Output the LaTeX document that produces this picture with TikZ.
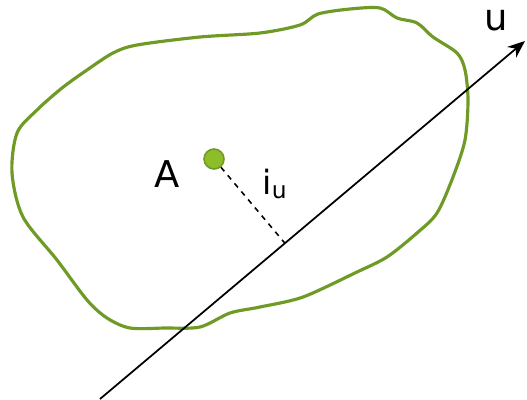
\documentclass[tikz,border=0pt]{standalone}
\usepackage{fontspec}
\setmainfont{DejaVu Sans}
\usetikzlibrary{calc,arrows.meta,positioning}
\definecolor{colorBlob}{HTML}{6E9A25}
\definecolor{colorDot}{HTML}{8DBE2A}
\definecolor{colorDotBorder}{HTML}{6E9A25}

\begin{document}
\begin{tikzpicture}[x=0.02cm, y=-0.02cm,
    blob/.style={draw=colorBlob, line width=1.8pt},
    dotnode/.style={
      circle, draw=colorDotBorder, fill=colorDot, line width=0.9pt,
      minimum size=0.4cm, inner sep=0pt
    },
    lbl/.style={font=\fontsize{21}{25}\selectfont, text=black},
    axisarr/.style={-{Stealth[length=10pt, width=8pt]}, line width=1pt, draw=black},
    perp/.style={dashed, line width=0.9pt, draw=black}
  ]
    \useasboundingbox (0,0) rectangle (527,399);

    % outline of the body
    \draw[blob] plot[smooth cycle, tension=0.5] coordinates {
      (318,14) (350,9) (380,8) (397,18) (417,23) (433,37) (457,53)
      (465,70) (468,100) (465,140) (453,177) (437,213) (417,233)
      (387,257) (357,272) (303,297) (260,307) (230,313) (200,327)
      (165,328) (130,328) (107,318) (87,300) (57,260) (23,217)
      (12,173) (17,133) (37,110) (62,88) (87,70) (113,53) (137,45)
      (200,37) (260,33) (300,25)};

    % axis u
    \coordinate (ustart) at (100,399);
    \coordinate (uend) at (525,41);
    \draw[axisarr] (ustart) -- (uend);

    \node[dotnode] (ctr) at (214,159) {};
    \coordinate (foot) at ($(ustart)!(ctr)!(uend)$);
    \draw[perp] (ctr) -- (foot);

    \node[lbl] (lblA) at (167,174) {A};
    \node[lbl] (lblU) at (496,20) {u};
    \node[lbl, font=\fontsize{19}{22}\selectfont] (lblI) at (275,184) {i\textsubscript{u}};
  \end{tikzpicture}
\end{document}
